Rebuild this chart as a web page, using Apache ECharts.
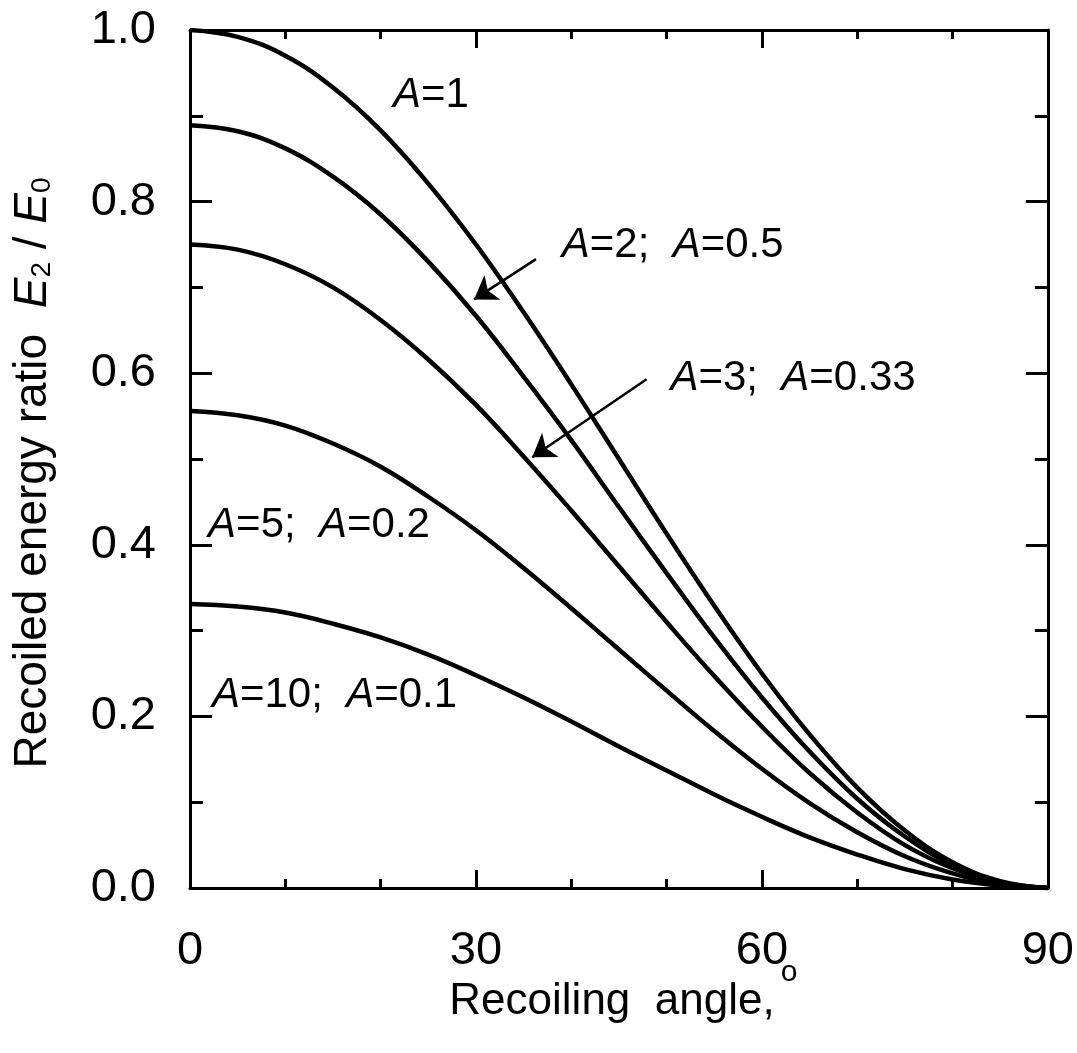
<!DOCTYPE html>
<html>
<head>
<meta charset="utf-8">
<script src="https://cdn.jsdelivr.net/npm/echarts@6/dist/echarts.min.js"></script>
<style>
html,body{margin:0;padding:0;background:#fff;}
#chart{width:1077px;height:1053px;}
</style>
</head>
<body>
<div id="chart"></div>
<script>
// Recoiling angle (degrees)
const angles = [0,5,10,15,20,25,30,35,40,45,50,55,60,65,70,75,80,85,90];
// E2/E0
const curveA1  = [1.000,0.992,0.970,0.933,0.883,0.821,0.750,0.671,0.587,0.500,0.413,0.329,0.250,0.179,0.117,0.067,0.030,0.008,0.000];
const curveA2  = [0.889,0.882,0.862,0.829,0.785,0.730,0.667,0.596,0.522,0.444,0.367,0.292,0.222,0.159,0.104,0.060,0.027,0.007,0.000];
const curveA3  = [0.750,0.744,0.727,0.700,0.662,0.616,0.563,0.503,0.440,0.375,0.310,0.247,0.188,0.134,0.088,0.050,0.023,0.006,0.000];
const curveA5  = [0.556,0.551,0.539,0.518,0.491,0.456,0.417,0.373,0.326,0.278,0.230,0.183,0.139,0.099,0.065,0.037,0.017,0.004,0.000];
const curveA10 = [0.331,0.328,0.321,0.308,0.292,0.272,0.248,0.222,0.194,0.165,0.137,0.109,0.083,0.059,0.039,0.022,0.010,0.003,0.000];
const curveNames = ['A=1','A=2; A=0.5','A=3; A=0.33','A=5; A=0.2','A=10; A=0.1'];
const curves = [curveA1, curveA2, curveA3, curveA5, curveA10];

// annotation labels: [x, y, text] in data coords
const labelItems = [
  [21.3, 0.924, '{i|A}=1'],
  [39.0, 0.749, '{i|A}=2;  {i|A}=0.5'],
  [50.4, 0.594, '{i|A}=3;  {i|A}=0.33'],
  [1.9, 0.423, '{i|A}=5;  {i|A}=0.2'],
  [2.3, 0.224, '{i|A}=10;  {i|A}=0.1']
];
// arrows: [fromX, fromY, toX, toY]
const arrowItems = [
  [36.3, 0.733, 29.8, 0.686],
  [47.9, 0.593, 35.9, 0.502]
];

const FONT = "'Liberation Sans',Arial,sans-serif";
const chart = echarts.init(document.getElementById('chart'));

const xBase = {
  type:'value', min:0, max:90, interval:30,
  axisLine:{show:true, onZero:false, lineStyle:{color:'#000', width:3}},
  axisTick:{show:true, inside:true, length:18, lineStyle:{color:'#000', width:3}},
  minorTick:{show:true, splitNumber:3, length:9, lineStyle:{color:'#000', width:3}},
  splitLine:{show:false}, minorSplitLine:{show:false}
};
const yBase = {
  type:'value', min:0, max:1, interval:0.2,
  axisLine:{show:true, onZero:false, lineStyle:{color:'#000', width:3}},
  axisTick:{show:true, inside:true, length:22, lineStyle:{color:'#000', width:3}},
  minorTick:{show:true, splitNumber:2, length:13, lineStyle:{color:'#000', width:3}},
  splitLine:{show:false}, minorSplitLine:{show:false}
};

const series = curves.map((c, k) => ({
  name: curveNames[k],
  type:'line',
  data: angles.map((a, i) => [a, c[i]]),
  showSymbol:false,
  smooth:0.4,
  lineStyle:{color:'#000', width:4.5},
  z:3
}));

series[0].markPoint = {
  symbol:'circle', symbolSize:0, silent:true,
  label:{
    show:true, position:'right', distance:0,
    color:'#000', fontFamily:FONT, fontSize:42,
    formatter: p => p.data.txt,
    rich:{ i:{fontStyle:'italic', fontFamily:FONT, fontSize:42, color:'#000'} }
  },
  data: labelItems.map(d => ({coord:[d[0], d[1]], txt:d[2]}))
};

// arrows drawn as a separate series with markLine
series.push({
  name:'arrows',
  type:'line',
  data:[],
  markLine:{
    silent:true,
    symbol:['none','arrow'],
    symbolSize:22,
    precision:3,
    label:{show:false},
    emphasis:{disabled:true},
    lineStyle:{color:'#000', width:2.5, type:'solid'},
    itemStyle:{color:'#000'},
    data: arrowItems.map(a => [{coord:[a[0],a[1]]},{coord:[a[2],a[3]]}])
  },
  z:4
});

chart.setOption({
  animation:false,
  backgroundColor:'#fff',
  grid:{left:190, top:30, right:29, bottom:165, containLabel:false},
  xAxis:[
    Object.assign({}, xBase, {position:'bottom',
      axisLabel:{show:true, margin:40, color:'#000', fontFamily:FONT, fontSize:47}}),
    Object.assign({}, xBase, {position:'top', axisLabel:{show:false}})
  ],
  yAxis:[
    Object.assign({}, yBase, {position:'left',
      axisLabel:{show:true, margin:34, color:'#000', fontFamily:FONT, fontSize:47,
        formatter: v => v.toFixed(1)}}),
    Object.assign({}, yBase, {position:'right', axisLabel:{show:false}})
  ],
  graphic:[
    {
      type:'text', x:33, y:473, rotation:Math.PI/2,
      style:{
        text:'{n|Recoiled energy ratio  }{i|E}{s|2}{n| / }{i|E}{s|0}',
        align:'center', verticalAlign:'middle',
        fill:'#000', font:'46px ' + FONT,
        rich:{
          n:{fontSize:46, fontFamily:FONT, fill:'#000'},
          i:{fontSize:46, fontFamily:FONT, fontStyle:'italic', fill:'#000'},
          s:{fontSize:28, fontFamily:FONT, fill:'#000', verticalAlign:'bottom'}
        }
      }
    },
    {
      type:'text', x:612, y:1002,
      style:{
        text:'Recoiling  angle,',
        align:'center', verticalAlign:'middle',
        fill:'#000', font:'44px ' + FONT
      }
    },
    {
      type:'text', x:789, y:973,
      style:{
        text:'o',
        align:'center', verticalAlign:'middle',
        fill:'#000', font:'30px ' + FONT
      }
    }
  ],
  series: series
});
</script>
</body>
</html>
